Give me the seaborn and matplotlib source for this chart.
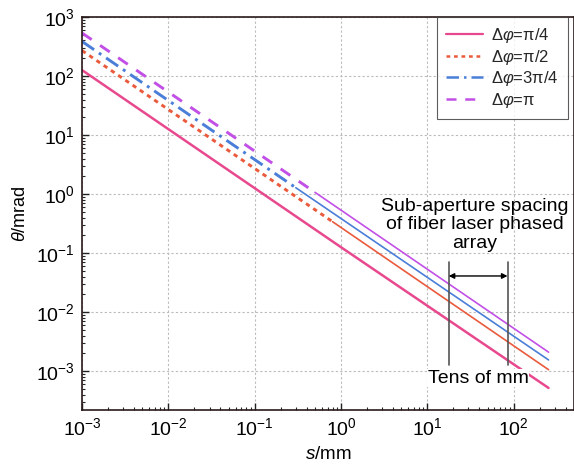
import matplotlib
matplotlib.use("Agg")
import matplotlib.pyplot as plt
import seaborn as sns
import pandas as pd
import numpy as np
from matplotlib.lines import Line2D

sns.set_theme(style="white")
plt.rcParams['font.family'] = ['Liberation Sans', 'DejaVu Sans']
plt.rcParams['mathtext.fontset'] = 'custom'
plt.rcParams['mathtext.rm'] = 'Liberation Sans'
plt.rcParams['mathtext.it'] = 'Liberation Sans:italic'
plt.rcParams['mathtext.bf'] = 'Liberation Sans:bold'

# Data: (s start, s break, s end) and theta at those points
labels = [r'Δ$\varphi$=π/4', r'Δ$\varphi$=π/2', r'Δ$\varphi$=3π/4', r'Δ$\varphi$=π']
s_pi4 = [1e-3, 1.0, 254]
t_pi4 = [126, 0.126, 5.2e-4]
s_pi2 = [1e-3, 0.8, 254]
t_pi2 = [270, 0.34, 1.06e-3]
s_3pi4 = [1e-3, 0.3, 254]
t_3pi4 = [385, 1.28, 1.55e-3]
s_pi = [1e-3, 0.5, 254]
t_pi = [535, 1.07, 2.1e-3]

x_ticks = [1e-3, 1e-2, 1e-1, 1e0, 1e1, 1e2]
y_ticks = [1e-3, 1e-2, 1e-1, 1e0, 1e1, 1e2, 1e3]

colors = ['#e8498e', '#ea5a3c', '#4a7ed8', '#c24fe6']
dashes = [None, (1.5, 1.5), (5, 2, 1, 2), (4, 3.5)]

series = [(s_pi4, t_pi4), (s_pi2, t_pi2), (s_3pi4, t_3pi4), (s_pi, t_pi)]

fig = plt.figure(figsize=(5.74, 4.69), dpi=100)
ax = fig.add_axes([0.1429, 0.1258, 0.857, 0.838])

for i, (s, t) in enumerate(series):
    df1 = pd.DataFrame({'s': s[:2], 't': t[:2]})
    df2 = pd.DataFrame({'s': s[1:], 't': t[1:]})
    if dashes[i] is None:
        sns.lineplot(data=pd.DataFrame({'s': s, 't': t}), x='s', y='t', ax=ax,
                     color=colors[i], lw=1.8, estimator=None)
    else:
        l1 = sns.lineplot(data=df1, x='s', y='t', ax=ax, color=colors[i], lw=2.1,
                          estimator=None)
        l1.lines[-1].set_dashes(dashes[i])
        sns.lineplot(data=df2, x='s', y='t', ax=ax, color=colors[i], lw=1.2,
                     estimator=None)

ax.set_xscale('log')
ax.set_yscale('log')
ax.set_xlim(1e-3, 500)
ax.set_ylim(2.2e-4, 1e3)

ax.xaxis.set_major_locator(matplotlib.ticker.FixedLocator(x_ticks))
ax.yaxis.set_major_locator(matplotlib.ticker.FixedLocator(y_ticks))
ax.xaxis.set_major_formatter(matplotlib.ticker.LogFormatterSciNotation())
ax.yaxis.set_major_formatter(matplotlib.ticker.LogFormatterSciNotation())
ax.xaxis.set_minor_locator(matplotlib.ticker.LogLocator(base=10, subs=np.arange(2, 10), numticks=12))
ax.yaxis.set_minor_locator(matplotlib.ticker.LogLocator(base=10, subs=np.arange(2, 10), numticks=12))
ax.xaxis.set_minor_formatter(matplotlib.ticker.NullFormatter())
ax.yaxis.set_minor_formatter(matplotlib.ticker.NullFormatter())

ax.tick_params(axis='both', which='major', direction='in', length=5, width=1,
               labelsize=14, colors='#222222', bottom=True, left=True, pad=5)
ax.tick_params(axis='both', which='minor', direction='in', length=2.5, width=0.8,
               bottom=True, left=True)
for lab in ax.get_xticklabels() + ax.get_yticklabels():
    lab.set_color('black')

ax.grid(True, which='major', color='#bbbbbb', linestyle=(0, (2, 2)), lw=0.8)
for sp in ax.spines.values():
    sp.set_color('#2a1a1a')
    sp.set_linewidth(1.2)

ax.set_xlabel(r'$s$/mm', fontsize=13.5, color='black', labelpad=5)
ax.set_ylabel(r'$\theta$/mrad', fontsize=13, color='black', labelpad=5)

# Annotations
vx = [17.7, 85]
for x in vx:
    ax.plot([x, x], [1.25e-3, 0.071], color='#555555', lw=1.2)
ax.annotate('', xy=(17.7, 0.041), xytext=(85, 0.041),
            arrowprops=dict(arrowstyle='<|-|>', color='black', lw=1,
                            mutation_scale=8, shrinkA=0, shrinkB=0))
ax.text(35.6, 0.30, 'Sub-aperture spacing\nof fiber laser phased\narray',
        ha='center', va='center', fontsize=14, linespacing=1.1, color='black')
ax.text(39, 7.6e-4, 'Tens of mm', ha='center', va='center', fontsize=14,
        color='black', bbox=dict(facecolor='white', edgecolor='none', pad=0.3))

handles = [Line2D([], [], color=colors[0], lw=1.6)]
for i in range(1, 4):
    h = Line2D([], [], color=colors[i], lw=1.8)
    h.set_dashes(dashes[i])
    handles.append(h)
leg = ax.legend(handles, labels, loc='upper right', fontsize=12, frameon=True,
                fancybox=False, edgecolor='#333333', handlelength=2.2,
                bbox_to_anchor=(568 / 574, 1 - 17 / 469),
                bbox_transform=fig.transFigure,
                borderaxespad=0.0, labelspacing=0.15, handletextpad=0.5,
                borderpad=0.55)
leg.get_frame().set_linewidth(0.8)

fig.savefig('out.png', dpi=100)
